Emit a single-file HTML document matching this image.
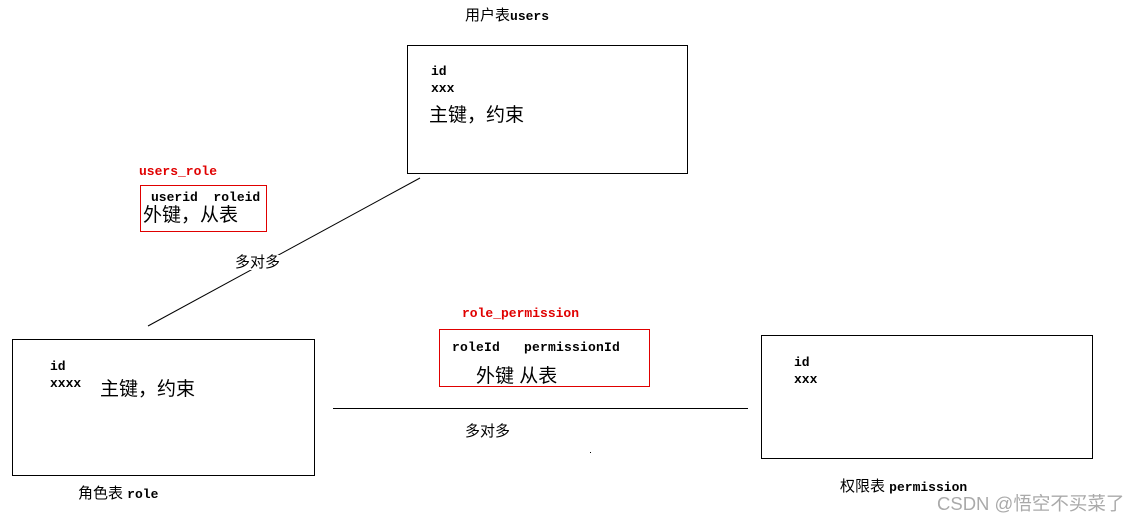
<!DOCTYPE html>
<html><head><meta charset="utf-8"><style>
body{margin:0;width:1141px;height:524px;background:#fff;position:relative;overflow:hidden}
.a{position:absolute;white-space:pre;line-height:1}
.m{font-family:"Liberation Mono",monospace;font-weight:bold;font-size:13px;color:#000}
.c{font-family:"Liberation Sans","Noto Sans CJK SC",sans-serif;font-size:15px;color:#000}
.b{font-family:"Liberation Sans","Noto Sans CJK SC",sans-serif;font-size:19px;color:#000}
.r{color:#e00000}
.box{position:absolute;border:1px solid #000;box-sizing:border-box}
.rbox{position:absolute;border:1px solid #e00000;box-sizing:border-box}
</style></head><body>
<svg width="1141" height="524" style="position:absolute;left:0;top:0">
<line x1="420" y1="178" x2="148" y2="326" stroke="#000" stroke-width="1"/>
<line x1="333" y1="408.5" x2="748" y2="408.5" stroke="#000" stroke-width="1"/>
<rect x="590" y="452" width="1" height="1" fill="#000"/>
</svg>
<div class="a c" style="left:465px;top:8px">用户表<span class="m">users</span></div>
<div class="box" style="left:407px;top:45px;width:281px;height:129px"></div>
<div class="a m" style="left:431px;top:65px">id</div>
<div class="a m" style="left:431px;top:82px">xxx</div>
<div class="a b" style="left:429px;top:106px">主键，约束</div>

<div class="a m r" style="left:139px;top:165px">users_role</div>
<div class="rbox" style="left:140px;top:185px;width:127px;height:47px"></div>
<div class="a m" style="left:151px;top:191px">userid  roleid</div>
<div class="a b" style="left:143px;top:206px">外键，从表</div>

<div class="a c" style="left:234px;top:255px;background:#fff;padding:0 1px">多对多</div>

<div class="box" style="left:12px;top:339px;width:303px;height:137px"></div>
<div class="a m" style="left:50px;top:360px">id</div>
<div class="a m" style="left:50px;top:377px">xxxx</div>
<div class="a b" style="left:100px;top:380px">主键，约束</div>
<div class="a c" style="left:78px;top:486px">角色表 <span class="m">role</span></div>

<div class="a m r" style="left:462px;top:307px">role_permission</div>
<div class="rbox" style="left:439px;top:329px;width:211px;height:58px"></div>
<div class="a m" style="left:452px;top:341px;letter-spacing:0.2px">roleId   permissionId</div>
<div class="a b" style="left:476px;top:367px">外键 从表</div>

<div class="a c" style="left:465px;top:424px">多对多</div>

<div class="box" style="left:761px;top:335px;width:332px;height:124px"></div>
<div class="a m" style="left:794px;top:356px">id</div>
<div class="a m" style="left:794px;top:373px">xxx</div>
<div class="a c" style="left:840px;top:479px">权限表 <span class="m">permission</span></div>
<div class="a" style="left:937px;top:495px;font-family:'Liberation Sans','Noto Sans CJK SC',sans-serif;font-size:18.5px;color:#aaa">CSDN @悟空不买菜了</div>
</body></html>
